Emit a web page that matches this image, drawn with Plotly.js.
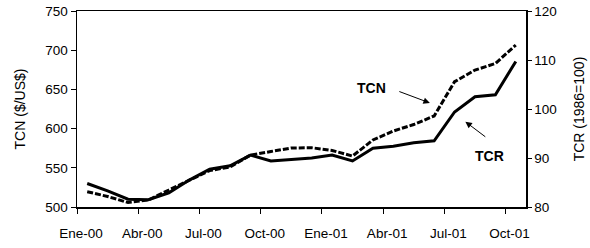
<!DOCTYPE html>
<html>
<head>
<meta charset="utf-8">
<script src="https://cdn.plot.ly/plotly-3.0.1.min.js"></script>
<style>
  html, body { margin: 0; padding: 0; background: #fff; }
  #chart { width: 590px; height: 248px; }
</style>
</head>
<body>
<div id="chart"></div>
<script>
const months = ['Ene-00','Feb-00','Mar-00','Abr-00','May-00','Jun-00','Jul-00','Ago-00','Sep-00','Oct-00','Nov-00','Dic-00',
                'Ene-01','Feb-01','Mar-01','Abr-01','May-01','Jun-01','Jul-01','Ago-01','Sep-01','Oct-01'];
const tcn = [519.5, 513.4, 505.7, 508.9, 521.7, 534.4, 546.5, 551, 566.3, 570.8, 575.3, 575.6,
             572.1, 565, 585.5, 596.9, 605.2, 616.1, 659.8, 674.7, 683, 706.6];
const tcr = [84.8, 83.3, 81.6, 81.5, 82.9, 85.5, 87.7, 88.4, 90.6, 89.4, 89.7, 90.0,
             90.6, 89.4, 92.0, 92.4, 93.1, 93.5, 99.4, 102.5, 102.9, 109.7];
const tickLabels = ['Ene-00','Abr-00','Jul-00','Oct-00','Ene-01','Abr-01','Jul-01','Oct-01'];

const xIdx = months.map((m, i) => i);
const tickPos = tickLabels.map(t => months.indexOf(t) - 0.5);

const font = 'Liberation Sans, Arial, sans-serif';

const traces = [
  { x: xIdx, y: tcn, name: 'TCN', type: 'scatter', mode: 'lines', yaxis: 'y',
    line: { color: '#000', width: 3, dash: '6px,2px' } },
  { x: xIdx, y: tcr, name: 'TCR', type: 'scatter', mode: 'lines', yaxis: 'y2',
    line: { color: '#000', width: 3 } }
];

const layout = {
  width: 590, height: 248,
  margin: { l: 77, r: 64, t: 11, b: 41 },
  paper_bgcolor: '#fff', plot_bgcolor: '#fff',
  showlegend: false,
  font: { family: font, size: 13.5, color: '#000' },
  xaxis: {
    range: [-0.5, 21.5], showgrid: false, zeroline: false,
    tickmode: 'array', tickvals: tickPos, ticktext: tickLabels,
    ticks: 'outside', ticklen: 5, tickwidth: 1, tickcolor: '#000',
    showline: true, linecolor: '#000', linewidth: 1.5, mirror: true,
    ticklabelshift: 4, ticklabelstandoff: 8,
    tickfont: { family: font, size: 13.5 }
  },
  yaxis: {
    range: [500, 750], dtick: 50, showgrid: false, zeroline: false,
    ticks: 'outside', ticklen: 5, tickwidth: 1, tickcolor: '#000',
    showline: true, linecolor: '#000', linewidth: 1.5,
    tickfont: { family: font, size: 13.5 },
    title: { text: 'TCN ($/US$)', font: { family: font, size: 14 }, standoff: 16 }
  },
  yaxis2: {
    range: [80, 120], dtick: 10, overlaying: 'y', side: 'right',
    showgrid: false, zeroline: false,
    ticks: 'outside', ticklen: 4, tickwidth: 1, tickcolor: '#000',
    showline: true, linecolor: '#000', linewidth: 1.5,
    tickfont: { family: font, size: 13.5 },
    title: { text: 'TCR (1986=100)', font: { family: font, size: 14 }, standoff: 18 }
  },
  annotations: [
    { x: 13.95, y: 651.8, xref: 'x', yref: 'y', text: '<b>TCN</b>', showarrow: false,
      font: { family: font, size: 14, color: '#000' } },
    { x: 16.79, y: 632.7, xref: 'x', yref: 'y', axref: 'x', ayref: 'y', ax: 15.22, ay: 648,
      text: '', showarrow: true, arrowhead: 2, arrowsize: 1.3, arrowwidth: 1, arrowcolor: '#000' },
    { x: 19.73, y: 90.4, xref: 'x', yref: 'y2', text: '<b>TCR</b>', showarrow: false,
      font: { family: font, size: 14, color: '#000' } },
    { x: 18.53, y: 97.4, xref: 'x', yref: 'y2', axref: 'x', ayref: 'y2', ax: 19.58, ay: 94.1,
      text: '', showarrow: true, arrowhead: 2, arrowsize: 1.3, arrowwidth: 1, arrowcolor: '#000' }
  ]
};

Plotly.newPlot('chart', traces, layout, { staticPlot: true, displayModeBar: false });
</script>
</body>
</html>
